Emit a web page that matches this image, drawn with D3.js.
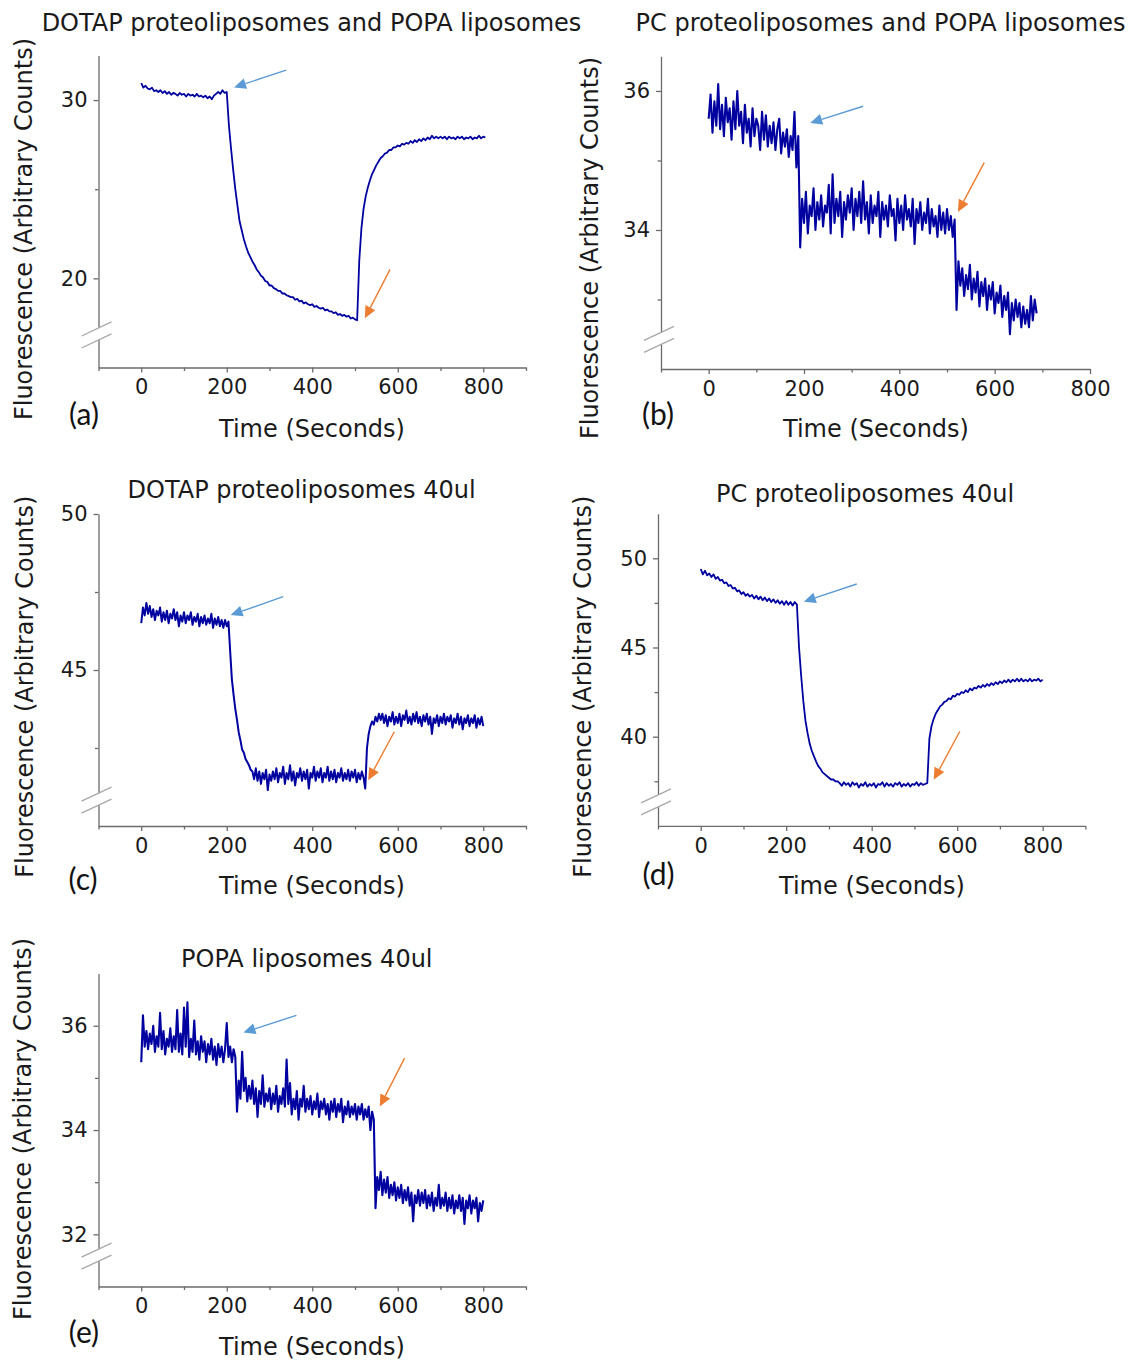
<!DOCTYPE html>
<html><head><meta charset="utf-8">
<script src="https://cdn.jsdelivr.net/npm/d3@7"></script>
<style>
body{margin:0;background:#fff;}
svg{display:block;font-family:"DejaVu Sans",sans-serif;}
</style></head><body>
<svg id="chart" width="1139" height="1361"></svg>
<script>
// ---------------- DATA ----------------
const titles = ["DOTAP proteoliposomes and POPA liposomes","PC proteoliposomes and POPA liposomes","DOTAP proteoliposomes 40ul","PC proteoliposomes 40ul","POPA liposomes 40ul"];
const panelLetters = ["(a)","(b)","(c)","(d)","(e)"];
const xAxisTitle = "Time (Seconds)";
const yAxisTitle = "Fluorescence (Arbitrary Counts)";
const xTickLabels = [0,200,400,600,800];
const xMinorTicks = [-100,100,300,500,700,900];
const xMinorTicksB = [-100,100,300,500,700];

const yTicksA = [20,30], yMinorA = [25];
const yTicksB = [34,36], yMinorB = [33,35];
const yTicksC = [45,50], yMinorC = [42.5,47.5];
const yTicksD = [40,45,50], yMinorD = [37.5,42.5,47.5];
const yTicksE = [32,34,36], yMinorE = [33,35];

// sample spacing in seconds
const stepA = 5, stepB = 4, stepC = 4, stepD = 5, stepE = 4;

const fluorA = [
30.95,30.7,30.8,30.65,30.6,30.7,30.5,30.55,30.45,30.55,
30.4,30.5,30.35,30.45,30.3,30.4,30.35,30.25,30.4,30.3,
30.35,30.2,30.35,30.25,30.3,30.2,30.35,30.2,30.25,30.15,
30.25,30.1,30.2,30.05,30.25,30.35,30.45,30.35,30.55,30.4,
30.45,
28.6,27.3,26.1,25.0,24.1,23.2,22.7,22.2,21.8,21.45,
21.2,20.95,20.75,20.5,20.35,20.15,20.05,19.85,19.8,19.6,
19.6,19.45,19.4,19.3,19.3,19.15,19.15,19.05,19.0,18.95,
18.95,18.8,18.85,18.7,18.75,18.6,18.65,18.55,18.5,18.55,
18.4,18.45,18.35,18.3,18.35,18.2,18.25,18.15,18.15,18.05,
18.1,17.95,18.0,17.9,17.95,17.85,17.9,17.75,17.8,17.7,
17.65,
21.0,22.8,23.9,24.6,25.1,25.5,25.85,26.1,26.35,26.55,
26.75,26.85,27.0,27.05,27.2,27.2,27.35,27.35,27.45,27.4,
27.55,27.5,27.6,27.55,27.7,27.6,27.75,27.65,27.8,27.7,
27.85,27.75,27.9,27.8,28.0,27.85,27.95,27.85,27.95,27.85,
27.95,27.8,27.95,27.85,27.9,27.8,27.95,27.85,27.95,27.8,
27.9,27.85,27.95,27.8,27.9,27.85,28.0,27.85,27.95,27.9
];

const fluorB = [
35.6,35.95,35.4,35.85,35.5,36.1,35.45,35.8,35.35,35.9,
35.55,35.75,35.3,35.85,35.45,36.0,35.5,35.7,35.25,35.8,
35.4,35.6,35.2,35.75,35.35,35.6,35.5,35.15,35.7,35.3,
35.65,35.2,35.5,35.25,35.55,35.15,35.45,35.6,35.1,35.4,
35.2,35.45,35.05,35.35,35.15,35.7,34.9,35.35,
33.75,
34.45,34.1,34.55,33.95,34.35,34.2,34.6,34.0,34.4,34.15,
34.5,34.05,34.35,34.25,34.65,33.95,34.8,34.1,34.45,34.2,
34.55,33.9,34.4,34.15,34.5,34.25,34.6,34.0,34.45,34.2,
34.55,34.1,34.7,34.15,34.4,33.95,34.5,34.1,34.35,34.2,
34.55,33.9,34.4,34.15,34.35,34.05,34.5,34.2,34.3,33.85,
34.45,34.1,34.35,34.0,34.5,34.15,34.3,34.05,34.45,33.8,
34.3,34.1,34.4,34.0,34.25,34.1,34.45,33.95,34.3,34.05,
34.2,33.9,34.35,34.0,34.25,33.95,34.3,34.0,34.2,33.9,
34.15,
32.85,
33.55,33.2,33.45,33.05,33.35,33.15,33.5,33.0,33.3,33.1,
33.4,32.9,33.25,33.05,33.3,32.85,33.2,33.0,33.25,32.8,
33.1,32.95,33.2,32.75,33.05,32.85,33.1,32.5,32.95,32.7,
33.0,32.75,32.95,32.6,32.9,32.65,32.85,32.6,33.05,32.7,
33.0,32.8
];

const fluorC = [
46.5,47.0,46.75,47.15,46.8,47.05,46.7,46.95,46.6,46.9,
46.75,47.0,46.55,46.85,46.6,46.9,46.5,46.8,46.65,46.95,
46.6,46.85,46.4,46.75,46.55,46.85,46.5,46.75,46.6,46.85,
46.45,46.7,46.55,46.8,46.4,46.7,46.5,46.75,46.45,46.65,
46.5,46.8,46.35,46.65,46.45,46.7,46.4,46.6,46.35,46.6,
46.4,46.55,
45.6,44.7,44.2,43.75,43.4,43.0,42.75,42.45,42.35,42.15,42.05,41.95,41.8,41.75,
41.5,41.85,41.45,41.75,41.35,41.7,41.5,41.8,41.15,41.65,
41.45,41.75,41.5,41.85,41.4,41.7,41.55,41.9,41.35,41.7,
41.5,41.95,41.45,41.75,41.3,41.7,41.55,41.85,41.45,41.75,
41.5,41.8,41.2,41.7,41.55,41.9,41.45,41.75,41.55,41.85,
41.4,41.7,41.55,41.9,41.45,41.75,41.5,41.8,41.4,41.7,
41.55,41.85,41.45,41.7,41.5,41.8,41.45,41.75,41.55,41.8,
41.4,41.7,41.5,41.75,41.55,
41.2,42.5,42.95,43.2,43.35,43.25,43.5,43.35,43.6,43.4,
43.6,43.3,43.55,43.2,43.5,43.35,43.65,43.25,43.5,43.3,
43.6,43.2,43.55,43.4,43.7,43.3,43.5,43.25,43.6,43.35,
43.65,43.3,43.5,43.2,43.55,43.35,43.6,43.25,43.5,42.95,
43.45,43.3,43.55,43.2,43.5,43.3,43.6,43.25,43.5,43.35,
43.55,43.15,43.45,43.3,43.6,43.25,43.5,43.1,43.45,43.3,
43.55,43.2,43.45,43.3,43.55,43.15,43.45,43.25,43.5,43.2
];

const fluorD = [
49.4,49.1,49.3,49.05,49.15,48.95,49.1,48.85,48.95,48.75,
48.8,48.6,48.65,48.45,48.5,48.3,48.35,48.15,48.2,48.0,
48.1,47.9,48.0,47.85,47.95,47.75,47.9,47.7,47.85,47.65,
47.8,47.6,47.75,47.55,47.7,47.5,47.65,47.45,47.6,47.4,
47.6,47.4,47.55,47.35,47.55,47.4,
45.0,43.4,42.0,40.9,40.2,39.6,39.2,38.9,38.6,38.35,
38.2,38.0,37.9,37.8,37.7,37.6,37.6,37.5,37.5,
37.4,37.25,37.45,37.3,37.4,37.2,37.45,37.3,37.4,37.15,
37.35,37.25,37.45,37.2,37.35,37.25,37.4,37.15,37.35,37.3,
37.45,37.2,37.4,37.25,37.35,37.2,37.4,37.3,37.45,37.2,
37.35,37.25,37.4,37.2,37.35,37.3,37.45,37.25,37.4,37.3,
37.35,
37.4,39.9,40.6,41.0,41.3,41.5,41.7,41.8,41.95,42.0,
42.15,42.1,42.3,42.25,42.4,42.35,42.5,42.45,42.6,42.5,
42.7,42.6,42.75,42.7,42.85,42.75,42.9,42.8,42.95,42.85,
43.0,42.9,43.05,42.95,43.1,43.0,43.15,43.05,43.2,43.05,
43.2,43.1,43.25,43.1,43.25,43.1,43.2,43.1,43.25,43.1,
43.2,43.15,43.25,43.1,43.2
];

const fluorE = [
35.3,36.2,35.6,35.9,35.55,35.85,35.65,36.0,35.5,35.8,
35.6,36.25,35.55,35.9,35.45,35.75,35.6,35.95,35.5,35.8,
35.55,36.3,35.5,35.85,35.45,36.35,35.6,36.45,35.4,35.75,
35.5,36.1,35.45,35.7,35.35,35.8,35.5,35.7,35.3,35.65,
35.45,35.75,35.35,35.6,35.25,35.65,35.4,35.6,35.3,35.55,
36.05,35.4,35.6,35.3,35.55,35.4,
34.35,34.95,34.6,35.5,34.75,35.0,34.55,34.85,34.6,34.95,
34.5,34.8,34.25,34.75,34.5,35.05,34.45,34.7,34.55,34.8,
34.4,34.7,34.5,34.85,34.35,34.65,34.5,34.8,34.45,35.35,
34.5,34.9,34.3,34.6,34.4,34.75,34.2,34.6,34.45,34.85,
34.35,34.6,34.4,34.65,34.3,34.55,34.4,34.7,34.25,34.55,
34.4,34.6,34.3,34.5,34.2,34.55,34.35,34.6,34.25,34.5,
34.35,34.6,34.15,34.45,34.3,34.55,34.25,34.45,34.3,34.5,
34.2,34.45,34.3,34.5,34.2,34.4,34.25,34.45,34.0,34.35,
34.2,32.5,33.1,
32.85,33.2,32.75,33.05,32.8,33.1,32.7,32.95,32.75,33.0,
32.65,32.9,32.7,32.95,32.6,32.85,32.65,32.9,32.55,32.8,
32.25,32.75,32.6,32.85,32.55,32.8,32.6,32.85,32.5,32.75,
32.55,32.8,32.45,32.7,32.55,32.95,32.5,32.7,32.55,32.8,
32.45,32.7,32.5,32.75,32.4,32.65,32.5,32.75,32.45,32.7,
32.2,32.65,32.5,32.75,32.4,32.65,32.5,32.7,32.25,32.6,
32.45,32.65
];

// annotation arrows: [tail, tip] in (time, fluorescence) units
const arrowsA = {blue:[[339,31.68],[217,30.71]], orange:[[582,20.5],[523,17.76]]};
const arrowsB = {blue:[[324,35.78],[213,35.54]], orange:[[578,34.97],[523,34.26]]};
const arrowsC = {blue:[[332,47.35],[209,46.76]], orange:[[592,43.02],[531,41.47]]};
const arrowsD = {blue:[[365,48.56],[241,47.57]], orange:[[606,40.29],[545,37.58]]};
const arrowsE = {blue:[[363,36.2],[239,35.87]], orange:[[616,35.38],[558,34.45]]};

// axis break positions (data units)
const breaksY = [16.88, 32.44, 40.86, 36.4, 31.6];

// ---------------- LAYOUT ----------------
const panels = [
 {values:fluorA, step:stepA, sw:1.8, xDom:[-100,900], yDom:[15,32.5], yMaj:yTicksA, yMin:yMinorA, xMin:xMinorTicks, arrows:arrowsA,
  box:{l:98.5,r:526,t:55.5,b:367.5}, title:[311.5,30.7], xlab:[312,436.7], ylab:[31.5,229], letter:[84,425]},
 {values:fluorB, step:stepB, sw:2.1, xDom:[-100,800], yDom:[32,36.5], yMaj:yTicksB, yMin:yMinorB, xMin:xMinorTicksB, arrows:arrowsB,
  box:{l:661,r:1090,t:56.2,b:369}, title:[880.5,30.7], xlab:[876,436.7], ylab:[598,248], letter:[658,425]},
 {values:fluorC, step:stepC, sw:2.0, xDom:[-100,900], yDom:[40,50], yMaj:yTicksC, yMin:yMinorC, xMin:xMinorTicks, arrows:arrowsC,
  box:{l:98.5,r:526,t:514,b:826}, title:[301.6,497.7], xlab:[312,894], ylab:[33,686.7], letter:[83,890]},
 {values:fluorD, step:stepD, sw:1.8, xDom:[-100,900], yDom:[35,52.5], yMaj:yTicksD, yMin:yMinorD, xMin:xMinorTicks, arrows:arrowsD,
  box:{l:658,r:1085.4,t:513.7,b:825.9}, title:[865,502.3], xlab:[872,894], ylab:[591,686.7], letter:[658.5,885]},
 {values:fluorE, step:stepE, sw:2.1, xDom:[-100,900], yDom:[31,37], yMaj:yTicksE, yMin:yMinorE, xMin:xMinorTicks, arrows:arrowsE,
  box:{l:98.5,r:526,t:973.6,b:1286.5}, title:[306.8,966.7], xlab:[312,1354.7], ylab:[31,1129], letter:[84,1343.3]}
];

const svg = d3.select("#chart");
const AXIS = "#6b6b6b", TEXT = "#1a1a1a", LINE = "#0000a0";
const BLUE = "#5b9bd5", ORANGE = "#ed7d31";
const fmt = d3.format("~g");

function styleAxis(g){
  g.select(".domain").attr("stroke",AXIS).attr("stroke-width",1.3);
  g.selectAll(".tick line").attr("stroke",AXIS).attr("stroke-width",1.3);
  g.selectAll(".tick text").attr("fill",TEXT).attr("font-size",21).attr("font-family","DejaVu Sans, sans-serif");
  g.attr("font-family",null).attr("font-size",null);
}

function drawArrow(g, x, y, pair, color){
  const [tx,ty] = [x(pair[0][0]), y(pair[0][1])];
  const [hx,hy] = [x(pair[1][0]), y(pair[1][1])];
  const ang = Math.atan2(hy-ty, hx-tx);
  const L = 12, W = 5.5;
  const bx = hx - L*Math.cos(ang), by = hy - L*Math.sin(ang);
  g.append("line").attr("x1",tx).attr("y1",ty).attr("x2",bx).attr("y2",by)
    .attr("stroke",color).attr("stroke-width",1.4);
  const px = -Math.sin(ang), py = Math.cos(ang);
  g.append("path").attr("d",`M${hx},${hy}L${bx+px*W},${by+py*W}L${bx-px*W},${by-py*W}Z`).attr("fill",color);
}

panels.forEach((p,i)=>{
  const x = d3.scaleLinear().domain(p.xDom).range([p.box.l,p.box.r]);
  const y = d3.scaleLinear().domain(p.yDom).range([p.box.b,p.box.t]);
  const g = svg.append("g");

  // x axis
  const gx = g.append("g").attr("transform",`translate(0,${p.box.b})`)
    .call(d3.axisBottom(x).tickValues(xTickLabels).tickFormat(fmt).tickSize(5).tickPadding(7).tickSizeOuter(0));
  styleAxis(gx);
  const gxm = g.append("g").attr("transform",`translate(0,${p.box.b})`)
    .call(d3.axisBottom(x).tickValues(p.xMin).tickSize(3.5).tickFormat("").tickSizeOuter(0));
  gxm.select(".domain").remove(); styleAxis(gxm);

  // y axis
  const gy = g.append("g").attr("transform",`translate(${p.box.l},0)`)
    .call(d3.axisLeft(y).tickValues(p.yMaj).tickFormat(fmt).tickSize(5).tickPadding(6).tickSizeOuter(0));
  styleAxis(gy);
  const gym = g.append("g").attr("transform",`translate(${p.box.l},0)`)
    .call(d3.axisLeft(y).tickValues(p.yMin).tickSize(3.5).tickFormat("").tickSizeOuter(0));
  gym.select(".domain").remove(); styleAxis(gym);

  // axis break
  const yc = y(breaksY[i]), xa = p.box.l;
  g.append("rect").attr("x",xa-3).attr("y",yc-6).attr("width",6).attr("height",12).attr("fill","#fff");
  [-6,6].forEach(k=>{
    g.append("line").attr("x1",xa-17).attr("y1",yc+k+17*0.47).attr("x2",xa+13).attr("y2",yc+k-13*0.47)
      .attr("stroke","#a8a8a8").attr("stroke-width",1.3);
  });

  // data trace
  const line = d3.line().x((d,j)=>x(j*p.step)).y(d=>y(d));
  g.append("path").datum(p.values).attr("d",line).attr("fill","none")
    .attr("stroke",LINE).attr("stroke-width",p.sw).attr("stroke-linejoin","round");

  // arrows
  drawArrow(g,x,y,p.arrows.blue,BLUE);
  drawArrow(g,x,y,p.arrows.orange,ORANGE);

  // texts
  g.append("text").attr("x",p.title[0]).attr("y",p.title[1]).attr("text-anchor","middle")
    .attr("font-size",24).attr("fill",TEXT).text(titles[i]);
  g.append("text").attr("x",p.xlab[0]).attr("y",p.xlab[1]).attr("text-anchor","middle")
    .attr("font-size",24).attr("fill",TEXT).text(xAxisTitle);
  g.append("text").attr("transform",`translate(${p.ylab[0]},${p.ylab[1]}) rotate(-90)`).attr("text-anchor","middle")
    .attr("font-size",24).attr("fill",TEXT).text(yAxisTitle);
  g.append("text").attr("x",p.letter[0]).attr("y",p.letter[1]).attr("text-anchor","middle")
    .attr("font-family","Lato, sans-serif").attr("font-size",30).attr("fill","#111").text(panelLetters[i]);
});
</script>
</body></html>
